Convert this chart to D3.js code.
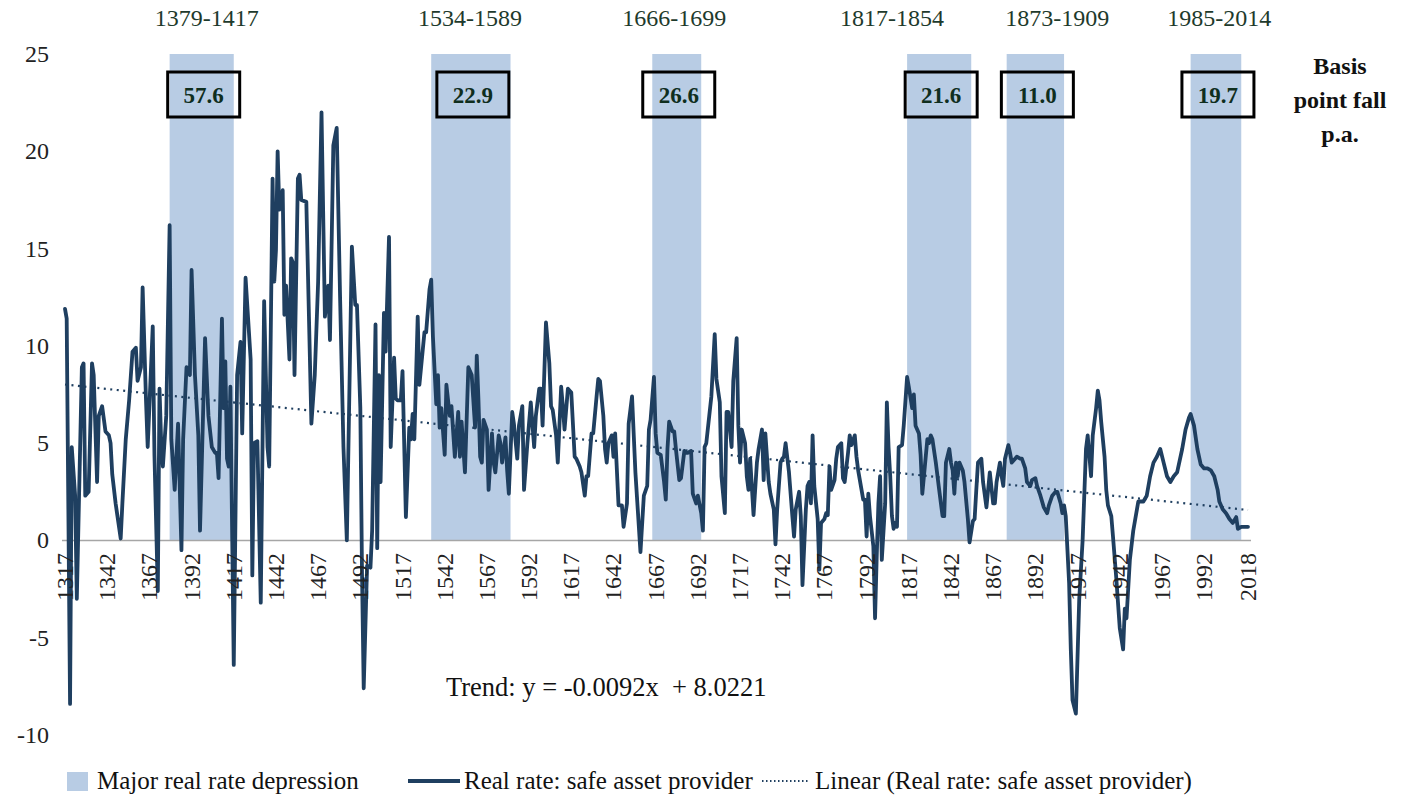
<!DOCTYPE html>
<html><head><meta charset="utf-8">
<script src="https://cdn.jsdelivr.net/npm/d3@7"></script>
<style>body{margin:0;background:#fff}svg{display:block}</style>
</head><body><svg id="c" width="1418" height="797"></svg>
<script>
const years = [1317,1318,1320,1321,1323,1324,1327,1328,1329,1331,1333,1334,1336,1337,1339,1341,1343,1344,1345,1347,1348,1350,1351,1353,1355,1357,1359,1360,1362,1363,1365,1366,1369,1370,1372,1373,1374,1375,1377,1379,1380,1382,1384,1386,1387,1389,1391,1392,1394,1396,1397,1400,1402,1404,1406,1407,1408,1410,1411,1412,1413,1414,1415,1417,1419,1421,1422,1424,1427,1428,1429,1431,1433,1435,1437,1438,1440,1441,1442,1443,1444,1446,1447,1448,1450,1451,1452,1453,1455,1456,1457,1460,1463,1465,1467,1469,1471,1473,1474,1476,1478,1480,1482,1484,1487,1489,1490,1492,1493,1494,1496,1498,1499,1501,1502,1503,1504,1506,1507,1509,1510,1512,1513,1514,1516,1517,1519,1521,1522,1523,1524,1526,1527,1528,1530,1531,1533,1534,1535,1537,1538,1539,1540,1542,1543,1545,1546,1548,1550,1551,1552,1554,1556,1558,1560,1561,1562,1563,1564,1565,1567,1568,1570,1571,1572,1574,1575,1576,1578,1579,1580,1582,1583,1585,1586,1588,1589,1591,1593,1595,1596,1598,1599,1600,1602,1604,1605,1606,1608,1609,1611,1612,1613,1615,1617,1619,1620,1622,1623,1625,1626,1627,1629,1630,1632,1633,1634,1636,1637,1638,1639,1641,1642,1643,1645,1647,1648,1650,1651,1653,1655,1658,1660,1662,1663,1664,1666,1667,1668,1670,1672,1673,1674,1675,1677,1678,1679,1681,1682,1684,1685,1686,1688,1689,1691,1692,1694,1695,1696,1697,1699,1700,1702,1703,1705,1706,1708,1709,1710,1712,1713,1715,1716,1717,1718,1720,1721,1722,1723,1725,1727,1728,1730,1731,1732,1734,1735,1737,1738,1739,1741,1742,1743,1744,1746,1748,1749,1750,1752,1753,1754,1756,1757,1758,1759,1760,1761,1763,1764,1765,1767,1768,1769,1770,1771,1773,1774,1775,1777,1778,1779,1781,1782,1783,1785,1786,1787,1789,1790,1791,1792,1793,1794,1796,1797,1798,1799,1800,1801,1803,1804,1805,1806,1807,1808,1809,1810,1811,1813,1814,1816,1817,1819,1820,1821,1823,1824,1825,1828,1829,1830,1831,1833,1835,1837,1838,1839,1841,1842,1843,1844,1845,1846,1847,1849,1850,1852,1853,1855,1856,1857,1858,1860,1861,1863,1864,1865,1867,1868,1869,1871,1872,1873,1874,1876,1877,1878,1880,1881,1883,1884,1886,1887,1889,1890,1892,1893,1895,1897,1899,1900,1902,1904,1905,1907,1908,1909,1910,1912,1913,1914,1916,1918,1920,1922,1923,1925,1926,1928,1929,1930,1931,1933,1934,1935,1937,1938,1940,1942,1944,1945,1946,1948,1950,1951,1953,1956,1958,1960,1962,1964,1966,1968,1970,1972,1974,1976,1979,1981,1983,1984,1986,1988,1990,1992,1994,1996,1998,2000,2001,2003,2005,2007,2009,2011,2012,2014,2015,2018];
const rates = [11.9,11.4,-8.4,4.8,2.3,-3.0,8.9,9.1,2.3,2.5,9.1,8.5,3.0,6.4,6.9,5.6,5.4,5.0,3.4,1.9,1.3,0.1,1.9,5.2,7.2,9.7,9.9,8.2,8.9,13.0,7.2,4.8,11.0,4.4,-2.6,7.8,5.0,3.8,6.4,16.2,5.2,2.6,6.0,-0.5,5.2,8.9,8.5,13.9,8.5,5.4,0.5,10.4,6.4,4.8,4.5,4.5,3.2,11.4,6.8,9.2,4.2,3.8,7.9,-6.4,8.5,10.2,5.5,13.5,9.3,-1.8,5.0,5.1,-3.2,12.3,4.8,3.8,18.6,13.3,14.9,20.0,17.0,18.0,11.6,13.1,9.3,14.5,14.3,8.5,18.6,18.8,17.5,17.4,6.0,8.5,13.3,22.0,11.5,13.1,10.3,20.3,21.2,12.5,4.8,0.0,15.1,12.1,12.1,6.8,-1.7,-7.6,-1.3,-1.4,0.5,11.1,-0.4,8.5,3.0,11.7,9.7,15.6,4.8,9.4,7.3,7.2,7.2,8.7,1.2,5.8,5.2,6.5,5.2,11.5,8.0,8.9,10.7,10.7,12.9,13.4,10.5,7.0,8.5,5.8,6.8,4.4,8.0,6.4,6.9,4.3,6.6,4.3,6.1,3.5,8.9,8.5,5.8,9.5,7.2,4.3,4.0,6.2,5.7,2.6,5.5,4.0,3.5,5.4,5.0,4.0,5.3,3.6,2.4,6.6,6.0,4.2,5.9,6.9,2.6,5.0,7.1,4.8,6.4,7.8,7.8,5.9,11.2,9.1,6.9,6.7,5.4,4.0,7.9,6.9,5.7,7.8,7.6,4.3,4.2,3.8,3.5,2.3,3.3,3.3,5.5,5.5,7.4,8.3,8.2,6.4,4.7,4.0,5.0,5.4,4.3,5.5,1.8,1.8,0.7,1.9,6.0,7.4,3.5,-0.6,2.3,2.8,5.7,6.2,8.4,5.5,4.5,4.4,3.0,2.1,4.7,6.1,5.6,5.6,4.7,3.1,3.2,4.6,4.5,4.5,4.6,2.4,1.9,2.3,1.4,0.5,4.8,5.0,6.6,7.4,10.6,8.3,7.1,3.3,1.4,6.6,6.6,4.8,8.2,10.4,5.9,4.0,5.7,5.0,3.3,2.6,4.2,1.3,4.0,4.7,5.7,3.1,5.5,3.0,2.4,1.6,-0.2,1.6,4.0,4.2,4.3,5.0,3.5,1.25,0.2,1.6,2.5,1.25,-2.3,1.6,2.8,3.0,1.9,5.4,2.8,1.1,-1.5,0.9,1.1,1.4,1.3,3.8,2.6,3.1,4.2,4.8,5.0,3.2,3.0,4.5,5.4,4.9,5.4,4.3,3.6,2.6,2.1,2.1,0.2,2.4,1.25,-0.3,-4.0,-0.8,1.9,3.3,-1.0,1.9,7.1,4.8,3.3,1.25,0.6,0.9,0.7,4.8,4.9,5.9,8.4,7.9,6.8,7.5,5.9,5.5,4.4,2.4,5.2,5.0,5.4,5.2,4.0,2.6,1.25,1.25,4.0,4.7,4.0,3.6,2.4,4.0,3.3,4.0,3.6,3.0,1.1,-0.1,1.0,1.1,2.6,4.0,4.2,3.0,1.7,2.6,3.5,1.9,1.9,3.0,4.0,3.3,2.8,4.2,4.9,4.5,4.0,4.2,4.3,4.2,4.2,3.7,3.0,2.8,3.1,3.2,2.8,2.3,1.7,1.4,1.8,2.3,2.5,2.5,1.9,1.4,1.8,1.25,-2.2,-5.6,-8.2,-8.9,-3.0,0.0,4.7,5.4,3.3,5.4,6.8,7.7,7.2,6.1,4.3,2.6,1.8,1.25,0.2,-2.0,-4.5,-5.6,-3.5,-4.0,-1.0,0.5,1.0,2.0,2.0,2.3,3.3,4.0,4.3,4.7,4.0,3.3,3.0,3.3,3.5,4.7,5.7,6.3,6.5,5.9,4.7,3.9,3.7,3.7,3.6,3.3,2.6,2.0,1.6,1.4,1.1,0.9,1.2,0.6,0.7,0.7,0.7];
const tickYears = [1317,1342,1367,1392,1417,1442,1467,1492,1517,1542,1567,1592,1617,1642,1667,1692,1717,1742,1767,1792,1817,1842,1867,1892,1917,1942,1967,1992,2018];
const yTicks = [-10,-5,0,5,10,15,20,25];
const bandStart = [1379,1534,1665,1816,1875,1984];
const bandEnd = [1417,1581,1694,1854,1909,2014];
const periodLabels = ["1379-1417","1534-1589","1666-1699","1817-1854","1873-1909","1985-2014"];
const periodLabelYear = [1401,1557,1678,1807,1905,2001];
const bpFall = ["57.6","22.9","26.6","21.6","11.0","19.7"];
const trendSlope = -0.0092, trendIntercept = 8.0221;
const legendLabels = ["Major real rate depression","Real rate: safe asset provider","Linear (Real rate: safe asset provider)"];

const BAND = "#b8cce4", LINE = "#1f3f60", TXT = "#1e3a2c";
const FONT = "'Liberation Serif','Times New Roman',serif";
const svg = d3.select("#c").style("font-family", FONT);
svg.append("rect").attr("width",1418).attr("height",797).attr("fill","#fff");

const x = d3.scaleLinear().domain([1317, 2018]).range([65, 1248]);
const y = d3.scaleLinear().domain([-10, 25]).range([735, 54]);

// bands
const bands = d3.range(bandStart.length).map(i => ({s: bandStart[i], e: bandEnd[i], lab: periodLabels[i], ly: periodLabelYear[i], v: bpFall[i]}));
svg.append("g").selectAll("rect").data(bands).join("rect")
  .attr("x", d => x(d.s)).attr("width", d => x(d.e) - x(d.s))
  .attr("y", y(25)).attr("height", y(0) - y(25)).attr("fill", BAND);

// x axis line
svg.append("line").attr("x1", 62).attr("x2", 1251).attr("y1", y(0)).attr("y2", y(0))
  .attr("stroke", "#a6a6a6").attr("stroke-width", 1.5);

// trend
const trendYears = [1317, 2018];
svg.append("path")
  .attr("d", d3.line().x(d => x(d)).y(d => y(trendIntercept + trendSlope * (d - 1316)))(trendYears))
  .attr("fill","none").attr("stroke", LINE).attr("stroke-width", 2.2).attr("stroke-dasharray","2,4.5");

// main line
const pts = years.map((yr, i) => [yr, rates[i]]);
svg.append("path")
  .attr("d", d3.line().x(d => x(d[0])).y(d => y(d[1]))(pts))
  .attr("fill","none").attr("stroke", LINE).attr("stroke-width", 3.8)
  .attr("stroke-linejoin","round").attr("stroke-linecap","round");

// x tick labels (rotated)
svg.append("g").selectAll("text").data(tickYears).join("text")
  .attr("transform", d => `translate(${x(d) + 8},553) rotate(-90)`)
  .attr("text-anchor","end").attr("font-size", 24).attr("fill","#222")
  .text(d => d);

// y labels
svg.append("g").selectAll("text").data(yTicks).join("text")
  .attr("x", 49).attr("y", d => y(d) + 8).attr("text-anchor","end")
  .attr("font-size", 24).attr("fill","#222").text(d => d);

// period labels
svg.append("g").selectAll("text").data(bands).join("text")
  .attr("x", d => x(d.ly)).attr("y", 26).attr("text-anchor","middle")
  .attr("font-size", 24).attr("fill", TXT).text(d => d.lab);

// boxes
const bx = svg.append("g").selectAll("g").data(bands).join("g")
  .attr("transform", d => `translate(${(x(d.s) + x(d.e)) / 2 + 2},0)`);
bx.append("rect").attr("x", -36).attr("y", 72).attr("width", 72).attr("height", 45)
  .attr("fill","none").attr("stroke","#000").attr("stroke-width", 3);
bx.append("text").attr("y", 103).attr("text-anchor","middle").attr("font-size", 23)
  .attr("font-weight","bold").attr("fill","#0f2e1e").text(d => d.v);

// basis point note
["Basis","point fall","p.a."].forEach((t, i) => {
  svg.append("text").attr("x", 1340).attr("y", 74 + i * 34).attr("text-anchor","middle")
    .attr("font-size", 24).attr("font-weight","bold").attr("fill","#111").text(t);
});

// trend equation
svg.append("text").attr("x", 446).attr("y", 696).attr("font-size", 26.5).attr("fill","#111")
  .attr("xml:space","preserve").style("white-space","pre")
  .text("Trend: y = -0.0092x  + 8.0221");

// legend
const lg = svg.append("g").attr("font-size", 25).attr("fill","#111");
const ly = 781;
lg.append("rect").attr("x", 67).attr("y", ly - 9).attr("width", 21).attr("height", 19).attr("fill", BAND);
lg.append("text").attr("x", 97).attr("y", ly + 8).text(legendLabels[0]);
lg.append("line").attr("x1", 408).attr("x2", 460).attr("y1", ly).attr("y2", ly).attr("stroke", LINE).attr("stroke-width", 4);
lg.append("text").attr("x", 464).attr("y", ly + 8).text(legendLabels[1]);
lg.append("line").attr("x1", 762).attr("x2", 808).attr("y1", ly).attr("y2", ly).attr("stroke", LINE).attr("stroke-width", 2).attr("stroke-dasharray","1.5,2.5");
lg.append("text").attr("x", 815).attr("y", ly + 8).text(legendLabels[2]);
</script></body></html>
